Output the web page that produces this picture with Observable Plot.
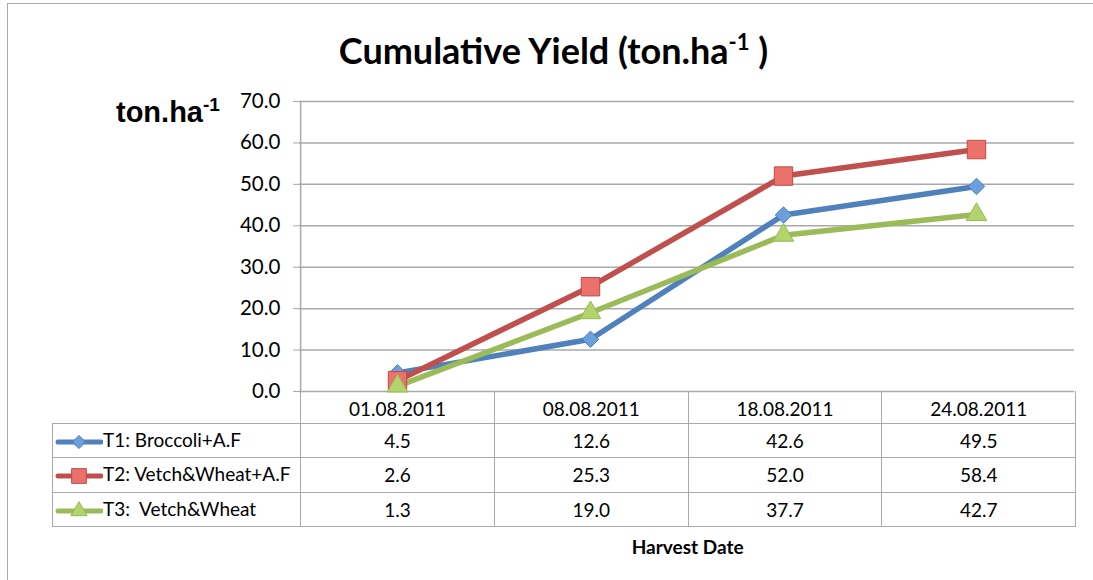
<!DOCTYPE html>
<html>
<head>
<meta charset="utf-8">
<script src="https://cdn.jsdelivr.net/npm/d3@7"></script>
<script src="https://cdn.jsdelivr.net/npm/@observablehq/plot@0.6"></script>
<style>
  body { margin: 0; background: #fff; }
  #wrap { position: relative; width: 1093px; height: 580px; overflow: hidden; background: #fff; font-family: Lato, "Open Sans", sans-serif; }
  #frame { position: absolute; left: 7px; top: 3px; width: 1200px; height: 800px; border-left: 1.5px solid #a9a9a9; border-top: 1.5px solid #a9a9a9; }
  #title { position: absolute; left: 0; top: 28px; width: 1107px; text-align: center; font: bold 36px Lato, sans-serif; color: #000; }
  #title sup { font-size: 22px; vertical-align: 0; position: relative; top: -14px; }
  #ylabel { position: absolute; left: 116px; top: 96px; font: bold 29px "Liberation Sans", Arial, sans-serif; color: #000; }
  #ylabel sup { font-size: 19px; position: relative; top: -11px; vertical-align: 0; }
  #chart { position: absolute; left: 0; top: 0; }
  #xlabel { position: absolute; top: 535px; font: bold 19px Lato, sans-serif; color: #000; transform: translateX(-50%); white-space: nowrap; }
  table.dt { position: absolute; border-collapse: collapse; font: 19px Lato, sans-serif; color: #000; table-layout: fixed; }
  table.dt td { border: 1.5px solid #a9a9a9; text-align: center; padding: 0; white-space: pre; box-sizing: border-box; }
  table.dt tr.head td { border-top: none; padding-top: 3px; }
  table.dt tr.head td.corner { border-left: none; }
  table.dt td.leg { text-align: left; padding-left: 2px; }
  table.dt td.leg svg { vertical-align: middle; margin-right: 0px; }
</style>
</head>
<body>
<div id="wrap">
  <div id="frame"></div>
  <div id="chart"></div>
  <div id="title">Cumulative Yield (ton.ha<sup>-1</sup> )</div>
  <div id="ylabel">ton.ha<sup>-1</sup></div>
  <div id="xlabel">Harvest Date</div>
</div>
<script>
// ---- data ----
const categories = ["01.08.2011", "08.08.2011", "18.08.2011", "24.08.2011"];
const seriesNames = ["T1: Broccoli+A.F", "T2: Vetch&Wheat+A.F", "T3:  Vetch&Wheat"];
const t1Values = [4.5, 12.6, 42.6, 49.5];
const t2Values = [2.6, 25.3, 52.0, 58.4];
const t3Values = [1.3, 19.0, 37.7, 42.7];
const yTicks = [0, 10, 20, 30, 40, 50, 60, 70];
const xTitle = "Harvest Date";

// ---- styles ----
const seriesValues = [t1Values, t2Values, t3Values];
const lineColors = ["#4F81BD", "#C0504D", "#9BBB59"];
const markerFills = ["#6CA0DC", "#EB716D", "#B3D46C"];
const markerStrokes = ["#4A7EBB", "#BE4B48", "#98B954"];
const symbols = ["diamond2", "square", "triangle"];
const radii = [7.4, 10.4, 7.6];

const W = 1093, H = 580;
const mLeft = 299, mRight = 19, mTop = 101, mBottom = 189;
const step = (W - mLeft - mRight) / categories.length;

const rows = seriesNames.map((s, i) =>
  categories.map((c, j) => ({ series: s, date: c, value: seriesValues[i][j] }))
);

const marks = [
  Plot.gridY(yTicks, { stroke: "#a9a9a9", strokeOpacity: 1, strokeWidth: 1.5 }),
  Plot.axisY(yTicks, {
    tickSize: 6, tickPadding: 13, tickFormat: d3.format(".1f"),
    stroke: "#a9a9a9", fill: "#000", label: null, fontSize: 20.5
  }),
  Plot.ruleX([categories[0]], { dx: -step / 2, y1: 0, y2: 70, stroke: "#a9a9a9", strokeWidth: 1.5 })
];
rows.forEach((r, i) => {
  marks.push(Plot.line(r, { x: "date", y: "value", stroke: lineColors[i], strokeWidth: 5.5, strokeLinejoin: "round", strokeLinecap: "round" }));
});
rows.forEach((r, i) => {
  marks.push(Plot.dot(r, { x: "date", y: "value", symbol: symbols[i], r: radii[i], fill: markerFills[i], stroke: markerStrokes[i], strokeWidth: 1, fillOpacity: 1 }));
});

const chart = Plot.plot({
  width: W, height: H,
  marginLeft: mLeft, marginRight: mRight, marginTop: mTop, marginBottom: mBottom,
  style: { fontFamily: "Lato, sans-serif", fontSize: "20px", background: "transparent", color: "#000", overflow: "visible" },
  x: { type: "point", domain: categories, padding: 0.5, axis: null },
  y: { domain: [0, 70], ticks: yTicks, axis: null },
  marks
});
document.getElementById("chart").appendChild(chart);

// ---- data table below the plot, aligned with the x scale ----
const xs = chart.scale("x");
const ys = chart.scale("y");
const x0 = xs.apply(categories[0]) - step / 2;
const yBase = ys.apply(0);
const legLeft = 52;
const wrap = d3.select("#wrap");
const table = wrap.append("table").attr("class", "dt")
  .style("left", legLeft + "px").style("top", yBase + "px")
  .style("width", (x0 + step * categories.length - legLeft + 0.75) + "px");
const cg = table.append("colgroup");
cg.append("col").style("width", (x0 - legLeft) + "px");
categories.forEach(() => cg.append("col").style("width", step + "px"));

const head = table.append("tr").attr("class", "head").style("height", "32px");
head.append("td").attr("class", "corner").style("border-bottom", "1.5px solid #a9a9a9");
categories.forEach(c => head.append("td").text(c));

seriesNames.forEach((s, i) => {
  const tr = table.append("tr").style("height", "34.5px");
  const td = tr.append("td").attr("class", "leg");
  const svg = td.append("svg").attr("width", 48).attr("height", 22);
  svg.append("line").attr("x1", 3).attr("x2", 46).attr("y1", 11).attr("y2", 11)
    .attr("stroke", lineColors[i]).attr("stroke-width", 5).attr("stroke-linecap", "round");
  const symMap = { diamond2: d3.symbolDiamond2, square: d3.symbolSquare, triangle: d3.symbolTriangle };
  const rr = radii[i] * 0.8;
  svg.append("path").attr("d", d3.symbol(symMap[symbols[i]], Math.PI * rr * rr)())
    .attr("transform", "translate(24,11)").attr("fill", markerFills[i]).attr("stroke", markerStrokes[i]);
  td.append("span").text(s);
  seriesValues[i].forEach(v => tr.append("td").text(d3.format(".1f")(v)));
});

d3.select("#xlabel").text(xTitle).style("left", (x0 + step * categories.length / 2) + "px");
</script>
</body>
</html>
